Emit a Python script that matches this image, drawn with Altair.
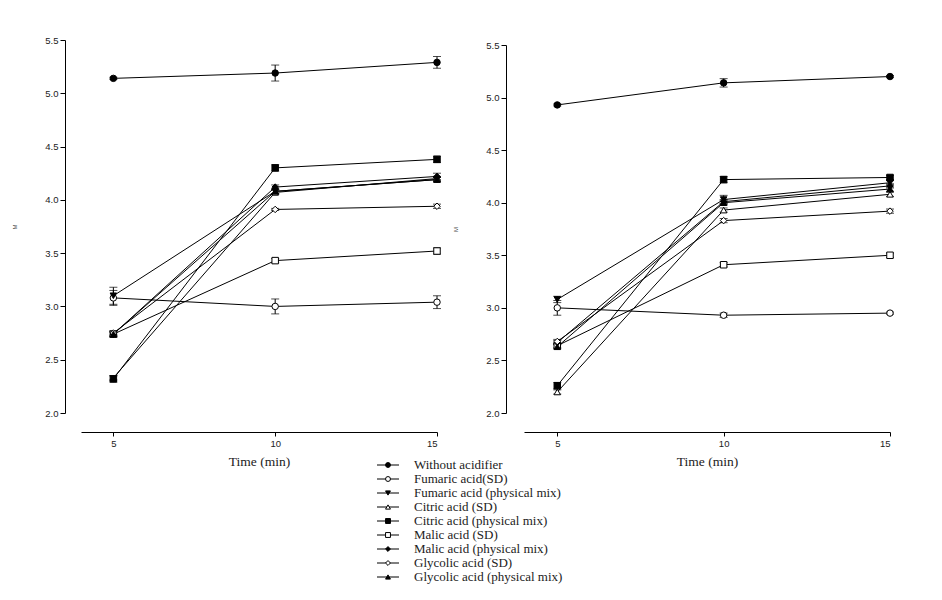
import altair as alt
import pandas as pd

times = [5, 10, 15]
series_names = [
    "Without acidifier", "Fumaric acid(SD)", "Fumaric acid (physical mix)",
    "Citric acid (SD)", "Citric acid (physical mix)", "Malic acid (SD)",
    "Malic acid (physical mix)", "Glycolic acid (SD)", "Glycolic acid (physical mix)",
]
shapes = ["circle", "circle", "triangle-down", "triangle-up", "square",
          "square", "diamond", "diamond", "triangle-up"]
fills = ["black", "white", "black", "white", "black", "white", "black", "white", "black"]
y_ticks = [2.0, 2.5, 3.0, 3.5, 4.0, 4.5, 5.0, 5.5]

# Left panel means and SDs (one list per series, at 5, 10, 15 min)
left_means = [
    [5.14, 5.19, 5.29],
    [3.08, 3.00, 3.04],
    [3.10, 4.08, 4.19],
    [2.33, 4.07, 4.20],
    [2.32, 4.30, 4.38],
    [2.74, 3.43, 3.52],
    [2.74, 4.12, 4.22],
    [2.75, 3.91, 3.94],
    [2.74, 4.08, 4.19],
]
left_sds = [
    [0.01, 0.075, 0.055],
    [0.07, 0.07, 0.06],
    [0.08, 0.02, 0.02],
    [0.02, 0.02, 0.02],
    [0.03, 0.03, 0.03],
    [0.02, 0.02, 0.03],
    [0.03, 0.02, 0.03],
    [0.02, 0.01, 0.02],
    [0.02, 0.02, 0.02],
]
# Right panel
right_means = [
    [4.93, 5.14, 5.20],
    [3.00, 2.93, 2.95],
    [3.08, 4.03, 4.19],
    [2.20, 3.93, 4.08],
    [2.26, 4.22, 4.24],
    [2.64, 3.41, 3.50],
    [2.67, 4.01, 4.16],
    [2.68, 3.83, 3.92],
    [2.63, 4.00, 4.13],
]
right_sds = [
    [0.01, 0.04, 0.01],
    [0.07, 0.02, 0.01],
    [0.03, 0.04, 0.02],
    [0.02, 0.02, 0.02],
    [0.03, 0.03, 0.02],
    [0.02, 0.02, 0.02],
    [0.02, 0.02, 0.02],
    [0.02, 0.02, 0.02],
    [0.02, 0.02, 0.02],
]


def make_df(means, sds):
    rows = []
    for i, name in enumerate(series_names):
        for j, t in enumerate(times):
            m = means[i][j]
            s = sds[i][j]
            rows.append({"series": name, "order": i, "time": t, "mean": m,
                         "lo": m - s, "hi": m + s})
    return pd.DataFrame(rows)


shape_scale = alt.Scale(domain=series_names, range=shapes)
fill_scale = alt.Scale(domain=series_names, range=fills)

LABEL_FONT = "Liberation Sans"
SERIF = "Liberation Serif"


def panel(df, width, height, y_scale, y_offset):
    base = alt.Chart(df)
    x_enc = alt.X("time:Q", scale=alt.Scale(domain=[4, 15], nice=False, zero=False),
                  axis=alt.Axis(values=times, title="Time (min)", offset=19,
                                grid=False, tickSize=4, labelFontSize=9.5,
                                labelFont=LABEL_FONT, labelColor="#222",
                                titleFont=SERIF, titleFontSize=13.5,
                                titleFontWeight="normal", titleColor="#222",
                                titlePadding=7, domainColor="black",
                                tickColor="black"))
    y_enc = alt.Y("mean:Q", scale=y_scale,
                  axis=alt.Axis(values=y_ticks, format=".1f", title="M",
                                offset=y_offset, grid=False, tickSize=5,
                                labelFontSize=9.5, labelFont=LABEL_FONT,
                                labelColor="#222", titleFontSize=6,
                                titleFont=LABEL_FONT, titleFontWeight="normal",
                                titleColor="#555", titlePadding=27,
                                domainColor="black", tickColor="black"))
    lines = base.mark_line(color="black", strokeWidth=1).encode(
        x=x_enc, y=y_enc, detail="series:N", order="time:Q")
    err = base.mark_rule(color="black", strokeWidth=1).encode(
        x="time:Q", y="lo:Q", y2="hi:Q")
    cap_lo = base.mark_tick(color="black", thickness=1, size=8,
                            orient="horizontal").encode(x="time:Q", y="lo:Q")
    cap_hi = base.mark_tick(color="black", thickness=1, size=8,
                            orient="horizontal").encode(x="time:Q", y="hi:Q")
    pts = base.mark_point(size=42, stroke="black", strokeWidth=1, opacity=1,
                          fillOpacity=1).encode(
        x="time:Q", y="mean:Q",
        shape=alt.Shape("series:N", scale=shape_scale, legend=None),
        fill=alt.Fill("series:N", scale=fill_scale, legend=None),
        order="order:Q")
    return alt.layer(lines, err, cap_lo, cap_hi, pts).properties(
        width=width, height=height)


left_df = make_df(left_means, left_sds)
right_df = make_df(right_means, right_sds)

left_main = panel(left_df, 356, 373,
                  alt.Scale(domain=[2.0, 5.5], nice=False, zero=False), 16)
right_main = panel(right_df, 366, 373,
                   alt.Scale(domain=[2.0, 5.5], nice=False, zero=False,
                             range=[373, 5]), 18)

# Custom legend (line + marker + label), drawn below the panels
legend_df = pd.DataFrame({"series": series_names, "row": list(range(len(series_names)))})
leg_y = alt.Y("row:Q", scale=alt.Scale(domain=[0, 8], range=[425, 537]), axis=None)
leg_base = alt.Chart(legend_df)
leg_line = leg_base.mark_rule(color="black", strokeWidth=1).encode(
    x=alt.value(296), x2=alt.value(318), y=leg_y)
leg_pts = leg_base.mark_point(size=24, stroke="black", strokeWidth=1, opacity=1,
                              fillOpacity=1).encode(
    x=alt.value(307), y=leg_y,
    shape=alt.Shape("series:N", scale=shape_scale, legend=None),
    fill=alt.Fill("series:N", scale=fill_scale, legend=None))
leg_txt = leg_base.mark_text(align="left", baseline="middle", font=SERIF,
                             fontSize=13, color="#222").encode(
    x=alt.value(333), y=leg_y, text="series:N")
legend = alt.layer(leg_line, leg_pts, leg_txt)

left = alt.layer(left_main, legend).resolve_scale(y="independent")

chart = alt.hconcat(left, right_main, spacing=87, bounds="flush").properties(
    padding={"left": 3, "top": 27, "right": 5, "bottom": 5},
    background="white"
).configure_view(strokeWidth=0, stroke="transparent")

chart.save("out.html", embed_options={"renderer": "svg", "actions": False})
